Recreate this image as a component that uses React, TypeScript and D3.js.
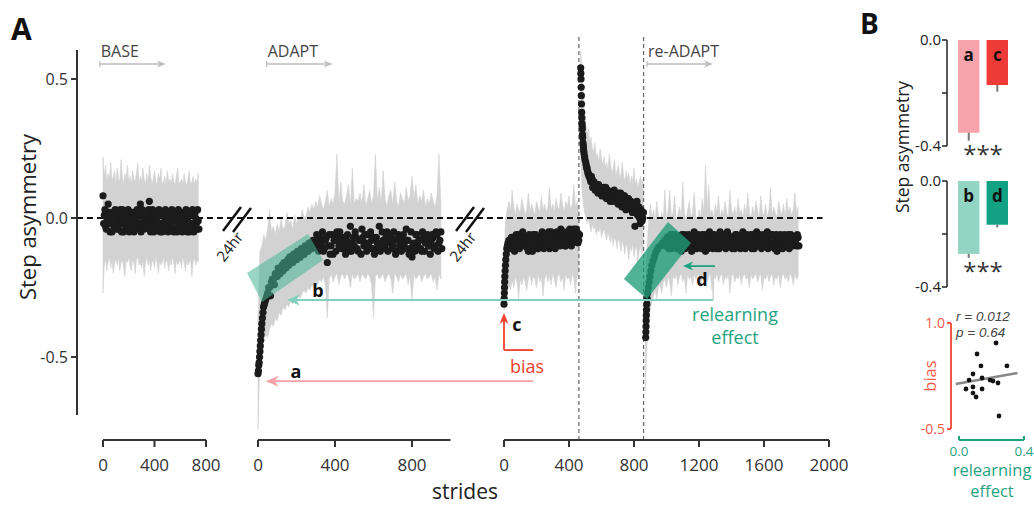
import React from 'react';
import * as d3 from 'd3';

// ---------- Panel A data (stride, step asymmetry) ----------
// BASE: dots every 10 strides from 0, and from 5
const baseMean = [0.08,0.01,-0.03,0.0,0.05,0.02,-0.02,-0.05,0.01,-0.03,0.02,-0.01,-0.04,0.0,-0.02,0.03,-0.05,-0.01,0.01,-0.03,0.0,-0.04,0.02,-0.02,-0.05,0.01,-0.01,0.02,-0.03,0.05,-0.02,0.01,-0.04,0.02,-0.01,-0.03,0.06,-0.05,-0.02,0.02,-0.01,-0.04,0.0,-0.03,0.02,-0.02,-0.05,0.01,-0.01,-0.03,0.02,-0.04,0.0,-0.02,0.01,-0.05,-0.01,0.02,-0.03,0.0,-0.02,0.01,-0.04,0.02,-0.01,-0.03,0.0,-0.05,0.01,-0.02,0.02,-0.03,0.0,-0.04,-0.01];
const baseMean2 = [-0.02,0.03,-0.04,0.01,-0.01,-0.05,0.02,0.0,-0.03,0.03,-0.04,0.01,-0.02,0.03,-0.05,0.0,0.02,-0.03,-0.01,0.03,-0.05,0.01,-0.02,0.02,0.0,-0.04,0.03,-0.02,0.01,-0.05,0.03,-0.01,0.02,-0.03,0.01,0.03,-0.04,0.0,0.03,-0.05,0.02,0.01,-0.03,0.03,-0.05,0.01,0.02,-0.03,0.03,-0.01,-0.05,0.02,-0.02,0.03,-0.04,0.02,0.0,-0.05,0.03,-0.03,0.02,-0.05,0.01,-0.03,0.03,-0.05,0.02,0.01,-0.04,0.03,-0.05,0.02,-0.02,0.03,-0.04];
const baseHi = [0.22,0.15,0.19,0.13,0.16,0.14,0.2,0.13,0.15,0.17,0.12,0.18,0.14,0.13,0.21,0.15,0.12,0.16,0.14,0.19,0.13,0.15,0.12,0.17,0.14,0.13,0.16,0.2,0.12,0.15,0.13,0.18,0.14,0.12,0.16,0.13,0.19,0.15,0.12,0.14,0.17,0.13,0.12,0.16,0.14,0.18,0.12,0.13,0.15,0.12,0.17,0.13,0.14,0.12,0.16,0.13,0.12,0.15,0.18,0.12,0.13,0.14,0.12,0.16,0.13,0.12,0.14,0.17,0.12,0.13,0.15,0.12,0.14,0.13,0.16];
const baseLo = [-0.27,-0.17,-0.15,-0.19,-0.16,-0.14,-0.18,-0.15,-0.2,-0.16,-0.15,-0.17,-0.14,-0.19,-0.16,-0.15,-0.18,-0.21,-0.15,-0.16,-0.14,-0.17,-0.19,-0.15,-0.16,-0.2,-0.15,-0.14,-0.17,-0.16,-0.18,-0.15,-0.21,-0.16,-0.14,-0.17,-0.15,-0.19,-0.16,-0.15,-0.18,-0.14,-0.16,-0.2,-0.15,-0.17,-0.16,-0.14,-0.18,-0.15,-0.16,-0.19,-0.15,-0.17,-0.14,-0.16,-0.2,-0.15,-0.17,-0.16,-0.15,-0.18,-0.14,-0.16,-0.19,-0.15,-0.17,-0.16,-0.15,-0.21,-0.16,-0.14,-0.17,-0.15,-0.16];

// ADAPT (day 1)
const adaptEarly = [[0,-0.56],[2,-0.55],[4,-0.53],[6,-0.52],[8,-0.5],[10,-0.48],[12,-0.46],[14,-0.44],[16,-0.42],[18,-0.4],[20,-0.38],[23,-0.36],[26,-0.34],[29,-0.32],[33,-0.31],[37,-0.3],[42,-0.29],[46,-0.28]];
// every 10 strides from 50
const adaptMean = [-0.27,-0.25,-0.23,-0.22,-0.2,-0.21,-0.19,-0.18,-0.19,-0.17,-0.16,-0.17,-0.15,-0.16,-0.14,-0.15,-0.13,-0.14,-0.12,-0.13,-0.11,-0.12,-0.1,-0.11,-0.1,
  -0.08,-0.11,-0.07,-0.1,-0.12,-0.08,-0.16,-0.06,-0.1,-0.13,-0.08,-0.05,-0.1,-0.09,-0.07,-0.11,-0.08,-0.12,-0.03,-0.09,-0.1,-0.07,-0.12,-0.08,-0.04,-0.1,-0.09,-0.06,-0.11,-0.08,-0.07,-0.12,-0.09,-0.03,-0.1,-0.08,-0.11,-0.05,-0.09,-0.07,-0.1,-0.08,-0.12,-0.06,-0.09,-0.08,-0.1,-0.04,-0.08,-0.11,-0.14,-0.09,-0.06,-0.1,-0.08,-0.12,-0.07,-0.09,-0.06,-0.1,-0.08,-0.07,-0.1,-0.06,-0.09,-0.05];
// every 10 strides from 55
const adaptMean2 = [-0.25,-0.28,-0.22,-0.24,-0.21,-0.18,-0.2,-0.17,-0.16,-0.18,-0.15,-0.14,-0.16,-0.13,-0.15,-0.12,-0.14,-0.11,-0.13,-0.1,-0.12,-0.09,-0.11,-0.08,-0.1,
  -0.06,-0.12,-0.09,-0.05,-0.11,-0.07,-0.1,-0.13,-0.06,-0.08,-0.12,-0.07,-0.05,-0.11,-0.09,-0.13,-0.06,-0.1,-0.12,-0.07,-0.05,-0.11,-0.08,-0.13,-0.07,-0.06,-0.12,-0.09,-0.05,-0.11,-0.13,-0.07,-0.1,-0.12,-0.05,-0.09,-0.07,-0.12,-0.06,-0.11,-0.05,-0.13,-0.07,-0.1,-0.12,-0.06,-0.11,-0.08,-0.13,-0.05,-0.1,-0.12,-0.06,-0.08,-0.11,-0.05,-0.12,-0.07,-0.1,-0.13,-0.06,-0.11,-0.05,-0.12,-0.08,-0.11];
// every 10 strides from 0
const adaptHi = [-0.35,-0.12,-0.1,-0.06,-0.08,-0.04,0.03,-0.05,-0.03,-0.06,-0.02,-0.05,0.0,-0.04,-0.03,0.02,-0.02,-0.01,-0.04,0.01,-0.02,0.0,-0.01,0.03,0.0,0.01,0.04,0.02,0.05,0.03,0.06,0.04,0.08,0.05,0.03,0.06,0.1,0.04,0.07,0.05,0.09,0.23,0.05,0.13,0.06,0.05,0.08,0.12,0.04,0.18,0.05,0.07,0.06,0.09,0.05,0.12,0.04,0.07,0.1,0.05,0.08,0.23,0.06,0.11,0.05,0.17,0.07,0.04,0.08,0.1,0.05,0.13,0.06,0.04,0.09,0.07,0.05,0.11,0.06,0.08,0.15,0.07,0.12,0.05,0.08,0.06,0.1,0.04,0.07,0.05,0.09,0.06,0.04,0.08,0.23,0.05];
const adaptLo = [-0.76,-0.5,-0.46,-0.44,-0.42,-0.43,-0.4,-0.38,-0.39,-0.36,-0.37,-0.34,-0.35,-0.32,-0.33,-0.31,-0.32,-0.3,-0.31,-0.29,-0.3,-0.28,-0.29,-0.27,-0.26,-0.27,-0.25,-0.26,-0.24,-0.25,-0.23,-0.24,-0.22,-0.23,-0.21,-0.24,-0.36,-0.22,-0.2,-0.23,-0.21,-0.2,-0.24,-0.21,-0.2,-0.22,-0.2,-0.21,-0.25,-0.2,-0.22,-0.21,-0.2,-0.23,-0.2,-0.21,-0.22,-0.2,-0.21,-0.24,-0.36,-0.21,-0.2,-0.22,-0.21,-0.2,-0.23,-0.21,-0.2,-0.22,-0.27,-0.2,-0.21,-0.23,-0.2,-0.22,-0.21,-0.2,-0.24,-0.21,-0.3,-0.2,-0.22,-0.21,-0.2,-0.23,-0.21,-0.2,-0.22,-0.21,-0.2,-0.23,-0.21,-0.26,-0.2,-0.22];

// Day 2 ADAPT (third axis, 0..465)
const day2Early = [[0,-0.31],[1,-0.29],[2,-0.27],[3,-0.25],[4,-0.23],[5,-0.21],[7,-0.19],[9,-0.17],[11,-0.15],[14,-0.13],[17,-0.11],[21,-0.1],[25,-0.09]];
// every 10 strides from 30, and from 35
const day2Mean = [-0.08,-0.1,-0.07,-0.09,-0.11,-0.08,-0.06,-0.1,-0.09,-0.07,-0.1,-0.08,-0.12,-0.07,-0.09,-0.06,-0.1,-0.08,-0.11,-0.07,-0.09,-0.06,-0.1,-0.08,-0.07,-0.11,-0.05,-0.09,-0.07,-0.1,-0.06,-0.08,-0.04,-0.09,-0.07,-0.1,-0.05,-0.08,-0.06,-0.09,-0.04,-0.07,-0.05,-0.08];
const day2Mean2 = [-0.11,-0.07,-0.1,-0.12,-0.06,-0.09,-0.11,-0.07,-0.05,-0.1,-0.07,-0.11,-0.06,-0.1,-0.12,-0.08,-0.06,-0.11,-0.08,-0.1,-0.05,-0.11,-0.07,-0.1,-0.05,-0.08,-0.1,-0.06,-0.11,-0.05,-0.09,-0.1,-0.06,-0.05,-0.1,-0.06,-0.09,-0.04,-0.1,-0.05,-0.08,-0.04,-0.09,-0.06];
// every 10 strides from 0
const day2Hi = [-0.15,0.0,0.03,0.06,0.02,0.1,0.04,0.01,0.05,0.03,0.02,0.07,0.04,0.01,0.03,0.09,0.02,0.05,0.03,0.01,0.06,0.04,0.02,0.08,0.03,0.05,0.02,0.04,0.11,0.03,0.05,0.02,0.07,0.04,0.03,0.09,0.05,0.02,0.06,0.04,0.08,0.03,0.05,0.12,0.04,0.06,0.03];
const day2Lo = [-0.33,-0.3,-0.27,-0.24,-0.26,-0.22,-0.25,-0.21,-0.23,-0.29,-0.22,-0.24,-0.21,-0.23,-0.26,-0.22,-0.2,-0.24,-0.21,-0.22,-0.25,-0.2,-0.23,-0.21,-0.28,-0.22,-0.2,-0.23,-0.21,-0.24,-0.2,-0.22,-0.25,-0.21,-0.2,-0.23,-0.21,-0.26,-0.2,-0.22,-0.21,-0.24,-0.2,-0.22,-0.27,-0.21,-0.2];

// POST (after-effect, 472..858)
const postEarly = [[472,0.54],[473,0.52],[474,0.5],[475,0.47],[476,0.44],[477,0.41],[478,0.38],[479,0.36],[480,0.34],[481,0.33],[482,0.32],[483,0.3],[484,0.29],[486,0.27],[488,0.26],[489,0.25],[491,0.24],[493,0.23],[496,0.22],[498,0.21],[503,0.2],[506,0.19],[508,0.18],[511,0.18],[514,0.17],[517,0.16],[520,0.16],[523,0.15],[526,0.15],[530,0.14]];
// every 8 strides from 534, and from 538
const postMean = [0.13,0.14,0.11,0.12,0.1,0.11,0.12,0.09,0.1,0.08,0.11,0.09,0.07,0.1,0.08,0.06,0.09,0.07,0.1,0.06,0.08,0.05,0.07,0.09,0.04,0.06,0.08,0.03,0.05,0.07,0.04,0.06,0.02,0.05,-0.03,0.03,0.01,0.04,-0.02,0.02,0.0];
const postMean2 = [0.15,0.11,0.13,0.1,0.12,0.09,0.1,0.11,0.08,0.1,0.08,0.11,0.09,0.07,0.09,0.08,0.06,0.09,0.07,0.08,0.06,0.09,0.05,0.07,0.06,0.08,0.04,0.06,0.07,0.04,0.06,0.03,0.05,0.02,0.04,0.06,0.02,0.0,0.03,-0.01,0.02];
// every 8 strides from 472
const postHi = [0.6,0.52,0.44,0.38,0.34,0.3,0.32,0.27,0.29,0.25,0.24,0.27,0.22,0.23,0.2,0.25,0.21,0.19,0.22,0.18,0.2,0.17,0.23,0.19,0.16,0.18,0.21,0.15,0.17,0.19,0.14,0.16,0.2,0.15,0.13,0.17,0.14,0.16,0.12,0.15,0.13,0.18,0.12,0.14,0.11,0.13,0.15,0.12,0.14];
const postLo = [0.2,0.1,0.05,0.02,0.0,-0.02,0.0,-0.03,-0.05,-0.02,-0.04,-0.03,-0.06,-0.04,-0.05,-0.03,-0.07,-0.05,-0.04,-0.06,-0.08,-0.05,-0.07,-0.09,-0.06,-0.1,-0.07,-0.08,-0.11,-0.07,-0.09,-0.12,-0.08,-0.1,-0.13,-0.09,-0.11,-0.15,-0.1,-0.12,-0.09,-0.14,-0.11,-0.1,-0.16,-0.12,-0.1,-0.13,-0.11];

// re-ADAPT (872..1810)
const reEarly = [[872,-0.43],[873,-0.41],[874,-0.39],[875,-0.37],[876,-0.35],[877,-0.33],[879,-0.31],[881,-0.29],[884,-0.27],[888,-0.25],[893,-0.23],[898,-0.21],[904,-0.19],[910,-0.17],[917,-0.155],[925,-0.14],[933,-0.125],[942,-0.115],[952,-0.105],[963,-0.1],[975,-0.09]];
// every 10 strides from 990, and from 995
const reMean = [-0.08,-0.1,-0.07,-0.09,-0.11,-0.06,-0.09,-0.08,-0.1,-0.07,-0.12,-0.08,-0.06,-0.09,-0.1,-0.07,-0.08,-0.11,-0.05,-0.09,-0.07,-0.1,-0.08,-0.06,-0.09,-0.12,-0.07,-0.08,-0.1,-0.06,-0.09,-0.07,-0.11,-0.08,-0.05,-0.09,-0.1,-0.07,-0.08,-0.06,-0.1,-0.08,-0.07,-0.11,-0.06,-0.09,-0.08,-0.1,-0.05,-0.08,-0.09,-0.07,-0.1,-0.06,-0.08,-0.11,-0.07,-0.09,-0.06,-0.08,-0.1,-0.07,-0.09,-0.05,-0.08,-0.1,-0.06,-0.09,-0.07,-0.12,-0.11,-0.06,-0.08,-0.09,-0.07,-0.1,-0.06,-0.08,-0.09,-0.07,-0.08,-0.1,-0.07];
const reMean2 = [-0.1,-0.07,-0.11,-0.06,-0.08,-0.1,-0.06,-0.11,-0.07,-0.09,-0.06,-0.1,-0.11,-0.07,-0.06,-0.1,-0.12,-0.07,-0.09,-0.11,-0.06,-0.08,-0.11,-0.1,-0.06,-0.08,-0.11,-0.05,-0.08,-0.11,-0.06,-0.1,-0.07,-0.11,-0.09,-0.06,-0.08,-0.11,-0.05,-0.1,-0.07,-0.11,-0.09,-0.06,-0.1,-0.07,-0.11,-0.06,-0.09,-0.11,-0.06,-0.1,-0.08,-0.11,-0.06,-0.09,-0.05,-0.1,-0.08,-0.11,-0.06,-0.1,-0.07,-0.11,-0.09,-0.06,-0.1,-0.11,-0.06,-0.08,-0.1,-0.07,-0.11,-0.06,-0.1,-0.08,-0.11,-0.06,-0.1,-0.07,-0.09,-0.06,-0.1];
// every 10 strides from 870
const reHi = [-0.35,-0.1,-0.02,0.05,0.0,0.03,-0.01,0.06,0.01,-0.02,0.02,0.0,0.1,-0.01,0.03,0.1,0.0,0.02,0.08,-0.01,0.01,0.04,0.0,0.13,0.02,-0.01,0.03,0.06,0.0,0.02,0.09,0.01,-0.01,0.03,0.0,0.07,0.02,0.19,0.04,0.12,0.01,0.03,0.0,0.05,0.02,0.08,0.0,0.03,0.01,0.06,0.02,0.0,0.1,0.03,0.01,0.04,0.0,0.07,0.02,0.03,0.0,0.05,0.01,0.09,0.02,0.0,0.04,0.01,0.06,0.03,0.0,0.08,0.02,0.01,0.05,0.0,0.03,0.11,0.01,0.04,0.02,0.0,0.06,0.03,0.01,0.05,0.0,0.07,0.02,0.04,0.01,0.03,0.09,0.02,0.04];
const reLo = [-0.62,-0.45,-0.38,-0.33,-0.3,-0.28,-0.26,-0.29,-0.25,-0.24,-0.27,-0.23,-0.22,-0.25,-0.21,-0.23,-0.28,-0.21,-0.22,-0.2,-0.24,-0.21,-0.2,-0.23,-0.21,-0.27,-0.2,-0.22,-0.21,-0.24,-0.2,-0.22,-0.21,-0.2,-0.25,-0.21,-0.22,-0.2,-0.23,-0.21,-0.2,-0.26,-0.21,-0.22,-0.2,-0.23,-0.21,-0.2,-0.24,-0.21,-0.22,-0.2,-0.27,-0.21,-0.2,-0.23,-0.21,-0.22,-0.2,-0.24,-0.21,-0.2,-0.22,-0.21,-0.25,-0.2,-0.22,-0.21,-0.2,-0.23,-0.21,-0.2,-0.26,-0.21,-0.22,-0.2,-0.23,-0.21,-0.2,-0.24,-0.21,-0.22,-0.2,-0.25,-0.21,-0.2,-0.22,-0.21,-0.23,-0.2,-0.21,-0.24,-0.2,-0.22,-0.21];

// axis ticks
const yTicksA = [-0.5, 0, 0.5];
const baseTicks = [0, 400, 800];
const adaptTicks = [0, 400, 800];
const reTicks = [0, 400, 800, 1200, 1600, 2000];

// teal highlight regions (stride, asymmetry)
const rectAdapt = [[-57,-0.198],[260,-0.058],[338,-0.151],[21,-0.302]];
const rectRe = [[1009,-0.014],[1151,-0.09],[880,-0.291],[738,-0.219]];

// ---------- Panel B data ----------
const barsTopLabels = ['a', 'c'];
const barsTopValues = [-0.35, -0.17];
const barsTopErr = [0.03, 0.025];
const barsTopColors = ['#f6a3ab', '#ee3b37'];
const barsBotLabels = ['b', 'd'];
const barsBotValues = [-0.275, -0.165];
const barsBotErr = [0.015, 0.01];
const barsBotColors = ['#93d5c3', '#12a283'];
const barTicks = [0, -0.2, -0.4];

const relearnVals = [0.228,0.111,0.135,0.295,0.086,0.142,0.062,0.191,0.209,0.240,0.043,0.086,0.142,0.086,0.105,0.246];
const biasVals = [0.717,0.561,0.392,0.392,0.278,0.222,0.193,0.193,0.179,0.151,0.066,0.094,0.066,0.009,-0.047,-0.316];
const fitLine = [[-0.02, 0.137], [0.36, 0.292]];

const FONT = '"Open Sans", "DejaVu Sans", sans-serif';
const RED = '#f0402f';
const TEAL = '#1fa37f';

function mk(start: number, step: number, vals: number[]) {
  return vals.map((v, i) => ({ s: start + i * step, v }));
}
function mkBand(start: number, step: number, hi: number[], lo: number[]) {
  return hi.map((h, i) => ({ s: start + i * step, hi: h, lo: lo[i] }));
}
function pairs(p: number[][]) {
  return p.map(([s, v]) => ({ s, v }));
}
const fmt = (v: number) => v.toFixed(1);

export default function App() {
  const yA = d3.scaleLinear().domain([-0.5, 0.5]).range([357, 79]);
  const xBase = d3.scaleLinear().domain([0, 800]).range([103, 206]);
  const xAdapt = d3.scaleLinear().domain([0, 800]).range([258, 412]);
  const xRe = d3.scaleLinear().domain([0, 2000]).range([504, 829]);

  const segs = [
    { x: xBase, bands: [mkBand(0, 10, baseHi, baseLo)], dots: [...mk(0, 10, baseMean), ...mk(5, 10, baseMean2)] },
    { x: xAdapt, bands: [mkBand(0, 10, adaptHi, adaptLo)], dots: [...pairs(adaptEarly), ...mk(50, 10, adaptMean), ...mk(55, 10, adaptMean2)] },
    {
      x: xRe,
      bands: [mkBand(0, 10, day2Hi, day2Lo), mkBand(472, 8, postHi, postLo), mkBand(870, 10, reHi, reLo)],
      dots: [
        ...pairs(day2Early), ...mk(30, 10, day2Mean), ...mk(35, 10, day2Mean2),
        ...pairs(postEarly), ...mk(534, 8, postMean), ...mk(538, 8, postMean2),
        ...pairs(reEarly), ...mk(990, 10, reMean), ...mk(995, 10, reMean2),
      ],
    },
  ];

  const areaFor = (x: any) =>
    d3.area<any>().x((d) => x(d.s)).y0((d) => yA(d.lo)).y1((d) => yA(d.hi));

  const poly = (x: any, pts: number[][]) => pts.map(([s, v]) => `${x(s)},${yA(v)}`).join(' ');

  const axisY = 440;
  const xAxes = [
    { x: xBase, ticks: baseTicks, end: 800 },
    { x: xAdapt, ticks: adaptTicks, end: 1000 },
    { x: xRe, ticks: reTicks, end: 2000 },
  ];

  const yArrowA = yA(-0.587);
  const yArrowB = yA(-0.295);
  const yArrowD = yA(-0.173);
  const xCstart = xRe(0);

  const leftHead = (x: number, y: number, len: number, hw: number) =>
    `${x},${y} ${x + len},${y - hw} ${x + len * 0.7},${y} ${x + len},${y + hw}`;
  const upHead = (x: number, y: number, len: number, hw: number) =>
    `${x},${y} ${x - hw},${y + len} ${x},${y + len * 0.7} ${x + hw},${y + len}`;
  const rightHead = (x: number, y: number, len: number, hw: number) =>
    `${x},${y} ${x - len},${y - hw} ${x - len * 0.7},${y} ${x - len},${y + hw}`;

  const phases = [
    { label: 'BASE', x: xBase(-25) },
    { label: 'ADAPT', x: xAdapt(45) },
    { label: 're-ADAPT', x: xRe(880) },
  ];

  const yB1 = d3.scaleLinear().domain([-0.4, 0]).range([146, 40]);
  const yB2 = d3.scaleLinear().domain([-0.4, 0]).range([287, 181]);
  const xB1 = d3.scaleBand().domain(barsTopLabels).range([958, 1008]).paddingInner(0.25);
  const xB2 = d3.scaleBand().domain(barsBotLabels).range([958, 1008]).paddingInner(0.25);
  const bAxisX = 947;

  const xS = d3.scaleLinear().domain([0, 0.4]).range([959, 1024]);
  const yS = d3.scaleLinear().domain([-0.5, 1.0]).range([429, 323]);

  const barGroup = (labels: string[], vals: number[], errs: number[], cols: string[], xb: any, yb: any, starsY: number) => (
    <g>
      {labels.map((l, i) => (
        <g key={l}>
          <rect x={xb(l)} y={yb(0)} width={xb.bandwidth()} height={yb(vals[i]) - yb(0)} fill={cols[i]} />
          <line x1={xb(l) + xb.bandwidth() / 2} x2={xb(l) + xb.bandwidth() / 2} y1={yb(vals[i])} y2={yb(vals[i] - errs[i])} stroke="#777" strokeWidth={2} />
          <text x={xb(l) + xb.bandwidth() / 2} y={yb(0) + 21} textAnchor="middle" fontSize={17} fontWeight="bold" fill="#111">{l}</text>
        </g>
      ))}
      <line x1={bAxisX} x2={bAxisX} y1={yb(0)} y2={yb(-0.4)} stroke="#222" strokeWidth={1.5} />
      {barTicks.map((t) => (
        <g key={t}>
          <line x1={bAxisX - 5} x2={bAxisX} y1={yb(t)} y2={yb(t)} stroke="#222" strokeWidth={1.5} />
          {t !== -0.2 && (
            <text x={bAxisX - 6} y={yb(t) + 5} textAnchor="end" fontSize={15} fill="#222">{fmt(t)}</text>
          )}
        </g>
      ))}
      <text x={983} y={starsY} textAnchor="middle" fontSize={24} fill="#333">***</text>
    </g>
  );

  return (
    <svg width={1034} height={506} style={{ position: 'absolute', left: 0, top: 0, background: '#fff', fontFamily: FONT }}>
      <rect x={0} y={0} width={1034} height={506} fill="#fff" />
      <text x={11} y={40} fontSize={30} fontWeight="bold" fill="#111">A</text>
      <text x={860} y={34} fontSize={28} fontWeight="bold" fill="#111">B</text>

      {segs.map((sg, i) => (
        <g key={i}>
          {sg.bands.map((b, j) => (
            <path key={j} d={areaFor(sg.x)(b) || ''} fill="#d2d2d2" stroke="#d2d2d2" strokeWidth={0.6} />
          ))}
        </g>
      ))}

      {[461, 859].map((s) => (
        <line key={s} x1={xRe(s)} x2={xRe(s)} y1={37} y2={axisY} stroke="#666" strokeWidth={1.2} strokeDasharray="4,3" />
      ))}

      <line x1={77} x2={xRe(1960)} y1={yA(0)} y2={yA(0)} stroke="#111" strokeWidth={2} strokeDasharray="6,4" />

      {segs.map((sg, i) => (
        <g key={i}>
          {sg.dots.map((d, j) => (
            <circle key={j} cx={sg.x(d.s)} cy={yA(d.v)} r={3.6} fill="#1b1b1b" />
          ))}
        </g>
      ))}

      <polygon points={poly(xAdapt, rectAdapt)} fill="#45b794" fillOpacity={0.55} />
      <polygon points={poly(xRe, rectRe)} fill="#1f9e79" fillOpacity={0.78} />

      <line x1={77} x2={77} y1={50} y2={415} stroke="#333" strokeWidth={2} />
      {yTicksA.map((t) => (
        <g key={t}>
          <line x1={71} x2={77} y1={yA(t)} y2={yA(t)} stroke="#333" strokeWidth={2} />
          <text x={68} y={yA(t) + 5.5} textAnchor="end" fontSize={16} fill="#333">{fmt(t)}</text>
        </g>
      ))}
      <text transform={`translate(36,${217}) rotate(-90)`} textAnchor="middle" fontSize={22} fill="#222">Step asymmetry</text>

      {xAxes.map((ax, i) => (
        <g key={i}>
          <line x1={ax.x(0)} x2={ax.x(ax.end)} y1={axisY} y2={axisY} stroke="#333" strokeWidth={2} />
          {ax.ticks.map((t) => (
            <g key={t}>
              <line x1={ax.x(t)} x2={ax.x(t)} y1={axisY} y2={axisY + 7} stroke="#333" strokeWidth={2} />
              <text x={ax.x(t)} y={axisY + 31} textAnchor="middle" fontSize={17} fill="#333">{t}</text>
            </g>
          ))}
        </g>
      ))}
      <text x={465} y={499} textAnchor="middle" fontSize={21} fill="#222">strides</text>

      {phases.map((p) => (
        <g key={p.label}>
          <text x={p.x + 1} y={57} fontSize={16} fill="#444">{p.label}</text>
          <line x1={p.x} x2={p.x + 62} y1={64} y2={64} stroke="#bdbdbd" strokeWidth={1.5} />
          <line x1={p.x} x2={p.x} y1={61} y2={67} stroke="#bdbdbd" strokeWidth={1.2} />
          <polygon points={rightHead(p.x + 66, 64, 9, 3.5)} fill="#bdbdbd" />
        </g>
      ))}

      {[xAdapt(0) - 20, xRe(0) - 33].map((cx, i) => (
        <g key={i}>
          <line x1={cx - 15} y1={231} x2={cx + 3} y2={207} stroke="#111" strokeWidth={2.5} />
          <line x1={cx - 5} y1={232} x2={cx + 13} y2={208} stroke="#111" strokeWidth={2.5} />
          <text transform={`translate(${cx - 4},${250}) rotate(-52)`} textAnchor="middle" fontSize={15} fill="#222">24hr</text>
        </g>
      ))}

      <line x1={xRe(180)} x2={xAdapt(40) + 6} y1={yArrowA} y2={yArrowA} stroke="#f6a0a8" strokeWidth={1.8} />
      <polygon points={leftHead(xAdapt(40), yArrowA, 13, 5.5)} fill="#f6a0a8" />
      <text x={296} y={yArrowA - 3} textAnchor="middle" fontSize={18} fontWeight="bold" fill="#111">a</text>

      <line x1={xRe(1287)} x2={xAdapt(150) + 6} y1={yArrowB} y2={yArrowB} stroke="#7fd0bc" strokeWidth={1.8} />
      <polygon points={leftHead(xAdapt(150), yArrowB, 13, 5.5)} fill="#7fd0bc" />
      <text x={318} y={yArrowB - 3} textAnchor="middle" fontSize={18} fontWeight="bold" fill="#111">b</text>

      <line x1={xRe(1287)} x2={xRe(1287)} y1={yA(-0.16)} y2={yArrowB} stroke="#cfcfcf" strokeWidth={1.5} />
      <line x1={xRe(1298)} x2={xRe(1102) + 5} y1={yArrowD} y2={yArrowD} stroke={TEAL} strokeWidth={1.8} />
      <polygon points={leftHead(xRe(1102), yArrowD, 10, 4.5)} fill={TEAL} />
      <text x={702} y={yArrowD + 20} textAnchor="middle" fontSize={18} fontWeight="bold" fill="#111">d</text>
      <text x={735} y={321} textAnchor="middle" fontSize={18} fill={TEAL}>relearning</text>
      <text x={735} y={344} textAnchor="middle" fontSize={18} fill={TEAL}>effect</text>

      <line x1={xCstart} x2={xCstart} y1={yA(-0.475)} y2={yA(-0.342) + 5} stroke={RED} strokeWidth={1.8} />
      <polygon points={upHead(xCstart, yA(-0.342), 11, 4.5)} fill={RED} />
      <line x1={xCstart} x2={xRe(180)} y1={yA(-0.475)} y2={yA(-0.475)} stroke={RED} strokeWidth={1.8} />
      <text x={517} y={331} textAnchor="middle" fontSize={18} fontWeight="bold" fill="#111">c</text>
      <text x={527} y={373} textAnchor="middle" fontSize={18} fill={RED}>bias</text>

      {barGroup(barsTopLabels, barsTopValues, barsTopErr, barsTopColors, xB1, yB1, 163)}
      {barGroup(barsBotLabels, barsBotValues, barsBotErr, barsBotColors, xB2, yB2, 280)}
      <text transform={`translate(909,147) rotate(-90)`} textAnchor="middle" fontSize={17.5} fill="#222">Step asymmetry</text>

      <line x1={951} x2={951} y1={yS(1)} y2={yS(-0.5)} stroke="#f25a48" strokeWidth={2} />
      {[1, -0.5].map((t) => (
        <g key={t}>
          <line x1={947} x2={951} y1={yS(t)} y2={yS(t)} stroke="#f25a48" strokeWidth={2} />
          <text x={945} y={yS(t) + 5} textAnchor="end" fontSize={14} fill="#f25a48">{fmt(t)}</text>
        </g>
      ))}
      <text transform={`translate(936,376) rotate(-90)`} textAnchor="middle" fontSize={16.5} fill="#f25a48">bias</text>
      <line x1={xS(0)} x2={xS(0.4)} y1={440} y2={440} stroke={TEAL} strokeWidth={2} />
      {[0, 0.4].map((t) => (
        <g key={t}>
          <line x1={xS(t)} x2={xS(t)} y1={436} y2={440} stroke={TEAL} strokeWidth={2} />
          <text x={xS(t)} y={456} textAnchor="middle" fontSize={13.5} fill={TEAL}>{fmt(t)}</text>
        </g>
      ))}
      <text x={992} y={476} textAnchor="middle" fontSize={16.5} fill={TEAL}>relearning</text>
      <text x={992} y={497} textAnchor="middle" fontSize={16.5} fill={TEAL}>effect</text>
      <line x1={xS(fitLine[0][0])} y1={yS(fitLine[0][1])} x2={xS(fitLine[1][0])} y2={yS(fitLine[1][1])} stroke="#888" strokeWidth={2.5} />
      {relearnVals.map((r, i) => (
        <circle key={i} cx={xS(r)} cy={yS(biasVals[i])} r={2.4} fill="#111" />
      ))}
      <text x={956} y={321} fontSize={13.5} fontStyle="italic" fontFamily='"Liberation Sans", Arial, sans-serif' fill="#444">r = 0.012</text>
      <text x={956} y={337} fontSize={13.5} fontStyle="italic" fontFamily='"Liberation Sans", Arial, sans-serif' fill="#444">p = 0.64</text>
    </svg>
  );
}
